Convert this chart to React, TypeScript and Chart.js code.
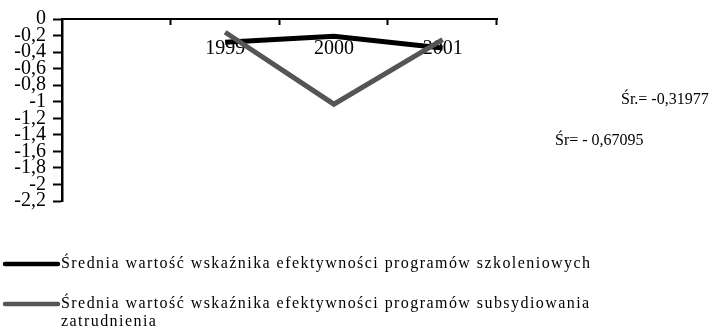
import React, { useEffect, useRef } from "react";
import { Chart, registerables } from "chart.js";

Chart.register(...registerables);

const categories: string[] = ["", "1999", "2000", "2001"];
const seriesSzkol: (number | null)[] = [null, -0.28, -0.21, -0.35];
const seriesSubs: (number | null)[] = [null, -0.16, -1.03, -0.25];
const legendLabels: string[][] = [
  ["Średnia wartość wskaźnika efektywności programów szkoleniowych"],
  ["Średnia wartość wskaźnika efektywności programów subsydiowania", "zatrudnienia"],
];
const avgLabels: string[] = ["Śr.= -0,31977", "Śr= - 0,67095"];
const yMin = -2.2;
const yMax = 0;
const yStep = 0.2;

const FONT = "'Liberation Serif', 'Times New Roman', serif";
const BLACK = "#000000";
const GRAY = "#555555";

const overlayPlugin = {
  id: "overlay",
  beforeDatasetsDraw(chart: any) {
    const ctx = chart.ctx as CanvasRenderingContext2D;
    const area = chart.chartArea;
    const x = chart.scales.x;
    ctx.save();
    const n = categories.length;
    const w = (area.right - area.left) / n;
    ctx.strokeStyle = BLACK;
    ctx.lineWidth = 2;
    for (let i = 1; i <= n; i++) {
      const px = Math.round(area.left + i * w) - 0.5;
      ctx.beginPath();
      ctx.moveTo(px, area.top);
      ctx.lineTo(px, area.top + 6);
      ctx.stroke();
    }
    ctx.fillStyle = BLACK;
    ctx.font = `20px ${FONT}`;
    ctx.textAlign = "center";
    ctx.textBaseline = "middle";
    categories.forEach((c, i) => {
      if (!c) return;
      ctx.fillText(c, x.getPixelForValue(i), area.top + 30);
    });
    ctx.restore();
  },
  afterDraw(chart: any) {
    const ctx = chart.ctx as CanvasRenderingContext2D;
    ctx.save();
    ctx.fillStyle = BLACK;
    ctx.textBaseline = "middle";
    ctx.textAlign = "left";
    ctx.font = `16px ${FONT}`;
    ctx.fillText(avgLabels[0], 621, 100);
    ctx.fillText(avgLabels[1], 555, 141);
    ctx.font = `16px ${FONT}`;
    const first = legendLabels[0][0];
    const natural = ctx.measureText(first).width;
    const spacing = Math.max(0, (529 - natural) / (first.length - 1));
    (ctx as any).letterSpacing = `${spacing.toFixed(2)}px`;
    const colors = [BLACK, GRAY];
    const rows = [264, 304];
    legendLabels.forEach((lines, i) => {
      ctx.strokeStyle = colors[i];
      ctx.lineWidth = 4.5;
      ctx.lineCap = "round";
      ctx.beginPath();
      ctx.moveTo(5, rows[i]);
      ctx.lineTo(58, rows[i]);
      ctx.stroke();
      lines.forEach((t, j) => {
        ctx.fillText(t, 61, rows[i] + j * 18);
      });
    });
    ctx.restore();
  },
};

export default function App() {
  const ref = useRef<HTMLCanvasElement | null>(null);
  useEffect(() => {
    const prevMargin = document.body.style.margin;
    document.body.style.margin = "0";
    if (!ref.current) return;
    const chart = new Chart(ref.current, {
      type: "line",
      data: {
        labels: categories,
        datasets: [
          {
            label: legendLabels[0][0],
            data: seriesSzkol,
            borderColor: BLACK,
            borderWidth: 5,
            pointRadius: 0,
            tension: 0,
            order: 1,
          },
          {
            label: legendLabels[1].join(" "),
            data: seriesSubs,
            borderColor: GRAY,
            borderWidth: 5,
            pointRadius: 0,
            tension: 0,
            order: 0,
          },
        ],
      },
      options: {
        responsive: false,
        animation: false,
        events: [],
        layout: { padding: { left: 0, top: 0, right: 214, bottom: 131 } },
        plugins: {
          legend: { display: false },
          tooltip: { enabled: false },
          title: { display: false },
        },
        scales: {
          x: {
            type: "category",
            position: "top",
            offset: true,
            grid: { display: false },
            ticks: { display: false },
            border: { display: true, color: BLACK, width: 2 },
            afterFit: (s: any) => {
              s.height = 19;
            },
          },
          y: {
            type: "linear",
            position: "left",
            min: yMin,
            max: yMax,
            grid: {
              drawOnChartArea: false,
              drawTicks: true,
              tickLength: 9,
              tickWidth: 2,
              tickColor: BLACK,
            },
            border: { display: true, color: BLACK, width: 2.5 },
            ticks: {
              stepSize: yStep,
              autoSkip: false,
              color: BLACK,
              padding: 7,
              font: { family: FONT, size: 20 },
              callback: (v: any) => {
                const r = Math.round(Number(v) * 10) / 10;
                if (r === 0) return "0";
                return String(r).replace(".", ",");
              },
            },
            afterFit: (s: any) => {
              s.width = 62;
            },
          },
        },
      },
      plugins: [overlayPlugin],
    });
    return () => {
      chart.destroy();
      document.body.style.margin = prevMargin;
    };
  }, []);
  return (
    <div style={{ position: "absolute", left: 0, top: 0, width: 711, height: 332 }}>
      <canvas ref={ref} width={711} height={332} />
    </div>
  );
}
